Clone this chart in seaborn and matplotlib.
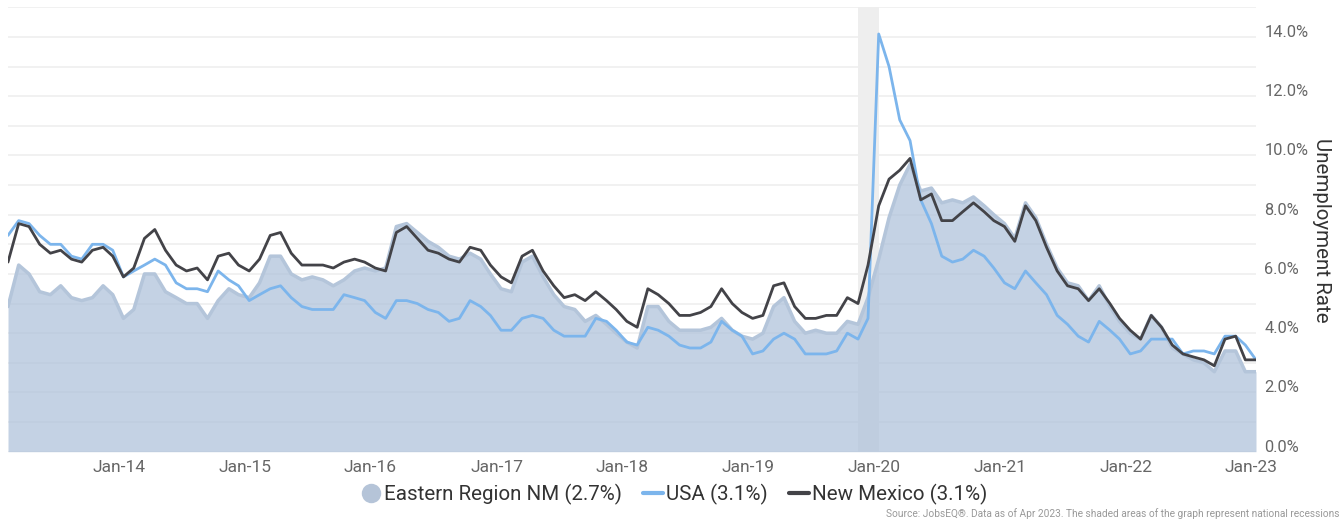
import numpy as np
import pandas as pd
import seaborn as sns
import matplotlib.pyplot as plt
import matplotlib.dates as mdates
from matplotlib.lines import Line2D

# monthly unemployment rates, May 2013 - Apr 2023
months = pd.date_range("2013-05-01", "2023-04-01", freq="MS")

usa = [7.3, 7.8, 7.7, 7.3, 7.0, 7.0, 6.6, 6.5,
       7.0, 7.0, 6.8, 5.9, 6.1, 6.3, 6.5, 6.3, 5.7, 5.5, 5.5, 5.4,
       6.1, 5.8, 5.6, 5.1, 5.3, 5.5, 5.6, 5.2, 4.9, 4.8, 4.8, 4.8,
       5.3, 5.2, 5.1, 4.7, 4.5, 5.1, 5.1, 5.0, 4.8, 4.7, 4.4, 4.5,
       5.1, 4.9, 4.6, 4.1, 4.1, 4.5, 4.6, 4.5, 4.1, 3.9, 3.9, 3.9,
       4.5, 4.4, 4.1, 3.7, 3.6, 4.2, 4.1, 3.9, 3.6, 3.5, 3.5, 3.7,
       4.4, 4.1, 3.9, 3.3, 3.4, 3.8, 4.0, 3.8, 3.3, 3.3, 3.3, 3.4,
       4.0, 3.8, 4.5, 14.1, 13.0, 11.2, 10.5, 8.5, 7.7, 6.6, 6.4, 6.5,
       6.8, 6.6, 6.2, 5.7, 5.5, 6.1, 5.7, 5.3, 4.6, 4.3, 3.9, 3.7,
       4.4, 4.1, 3.8, 3.3, 3.4, 3.8, 3.8, 3.8, 3.3, 3.4, 3.4, 3.3,
       3.9, 3.9, 3.6, 3.1]

new_mexico = [6.4, 7.7, 7.6, 7.0, 6.7, 6.8, 6.5, 6.4,
              6.8, 6.9, 6.6, 5.9, 6.2, 7.2, 7.5, 6.8, 6.3, 6.1, 6.2, 5.8,
              6.6, 6.7, 6.3, 6.1, 6.5, 7.3, 7.4, 6.7, 6.3, 6.3, 6.3, 6.2,
              6.4, 6.5, 6.4, 6.2, 6.1, 7.4, 7.6, 7.2, 6.8, 6.7, 6.5, 6.4,
              6.9, 6.8, 6.3, 5.9, 5.7, 6.6, 6.8, 6.1, 5.6, 5.2, 5.3, 5.1,
              5.4, 5.1, 4.8, 4.4, 4.2, 5.5, 5.3, 5.0, 4.6, 4.6, 4.7, 4.9,
              5.5, 5.0, 4.7, 4.5, 4.6, 5.6, 5.7, 4.9, 4.5, 4.5, 4.6, 4.6,
              5.2, 5.0, 6.3, 8.3, 9.2, 9.5, 9.9, 8.5, 8.7, 7.8, 7.8, 8.1,
              8.4, 8.1, 7.8, 7.6, 7.1, 8.3, 7.8, 6.9, 6.1, 5.6, 5.5, 5.1,
              5.5, 5.0, 4.5, 4.1, 3.8, 4.6, 4.2, 3.6, 3.3, 3.2, 3.1, 2.9,
              3.8, 3.9, 3.1, 3.1]

eastern_nm = [4.9, 6.3, 6.0, 5.4, 5.3, 5.6, 5.2, 5.1,
              5.2, 5.6, 5.3, 4.5, 4.8, 6.0, 6.0, 5.4, 5.2, 5.0, 5.0, 4.5,
              5.1, 5.5, 5.3, 5.2, 5.7, 6.6, 6.6, 6.0, 5.8, 5.9, 5.8, 5.6,
              5.8, 6.1, 6.2, 6.1, 6.2, 7.6, 7.7, 7.4, 7.1, 6.9, 6.6, 6.5,
              6.7, 6.5, 6.0, 5.5, 5.4, 6.4, 6.6, 5.9, 5.3, 4.9, 4.8, 4.4,
              4.6, 4.3, 4.0, 3.7, 3.5, 4.9, 4.9, 4.4, 4.1, 4.1, 4.1, 4.2,
              4.5, 4.1, 3.9, 3.8, 4.0, 4.9, 5.2, 4.4, 4.0, 4.1, 4.0, 4.0,
              4.4, 4.3, 5.2, 6.5, 7.9, 9.0, 9.7, 8.8, 8.9, 8.4, 8.5, 8.4,
              8.6, 8.3, 8.0, 7.7, 7.2, 8.4, 7.9, 7.0, 6.2, 5.7, 5.6, 5.1,
              5.6, 4.9, 4.4, 4.0, 3.8, 4.6, 4.2, 3.5, 3.3, 3.1, 3.0, 2.7,
              3.4, 3.4, 2.7, 2.7]

labels = ["Eastern Region NM (2.7%)", "USA (3.1%)", "New Mexico (3.1%)"]
recession = ("2020-02-01", "2020-04-01")
year_ticks = pd.date_range("2014-01-01", "2023-01-01", freq="YS")
y_ticks = [0, 2, 4, 6, 8, 10, 12, 14]

sns.set_style("white")
plt.rcParams['font.family'] = ['Roboto', 'DejaVu Sans']

W, H = 1343, 521
fig = plt.figure(figsize=(W / 100, H / 100), dpi=100)
ax = fig.add_axes([8 / W, 1 - 451.7 / H, (1256 - 8) / W, (451.7 - 7.3) / H])

# grid every 1%
for v in range(0, 16):
    ax.axhline(v, color='#EFEFEF', lw=1.2, zorder=0)

ax.axvspan(pd.Timestamp(recession[0]), pd.Timestamp(recession[1]), color='#EEEEEE', lw=0, zorder=1)

ax.fill_between(months, eastern_nm, color='#B0C3DB', alpha=0.75, lw=0, zorder=2)
sns.lineplot(x=months, y=eastern_nm, color='#B4C5DA', linewidth=2.5, ax=ax, zorder=3)
sns.lineplot(x=months, y=usa, color='#7CB5EC', linewidth=2, ax=ax, zorder=4)
sns.lineplot(x=months, y=new_mexico, color='#434348', linewidth=2, ax=ax, zorder=5)

ax.set_xlim(months[0], months[-1])
ax.set_ylim(0, 15)
for s in ax.spines.values():
    s.set_visible(False)

ax.set_xticks(year_ticks)
ax.xaxis.set_major_formatter(mdates.DateFormatter('%b-%y'))
ax.tick_params(axis='x', length=5, color='#CCD6EB', width=1, pad=1, labelsize=12.5, labelcolor='#666666')
for t in ax.get_xticklabels():
    t.set_ha('left')

ax.yaxis.tick_right()
ax.set_yticks(y_ticks)
ax.set_yticklabels(['%.1f%%' % v for v in y_ticks])
ax.tick_params(axis='y', length=0, pad=6, labelsize=11.8, labelcolor='#666666')
for t in ax.get_yticklabels():
    t.set_va('baseline')
ax.set_xlabel('')
ax.set_ylabel('')

fig.text(1321 / W, 1 - 230 / H, 'Unemployment Rate', rotation=270, ha='center', va='center',
         fontsize=14.8, color='#333333')

handles = [Line2D([], [], ls='none', marker='o', ms=14, mfc='#B5C4D8', mec='none'),
           Line2D([], [], color='#7CB5EC', lw=3),
           Line2D([], [], color='#434348', lw=3)]
fig.legend(handles, labels, loc='center', bbox_to_anchor=(0.502, 1 - 494 / H), ncol=3, frameon=False,
           fontsize=14.8, handlelength=1.0, handletextpad=0.15, columnspacing=1.0, labelcolor='#333333')

fig.text(1340 / W, 1 - 514 / H,
         'Source: JobsEQ\u00ae. Data as of Apr 2023. The shaded areas of the graph represent national recessions',
         ha='right', va='center', fontsize=7.3, color='#999999')

fig.savefig('out.png', dpi=100)
